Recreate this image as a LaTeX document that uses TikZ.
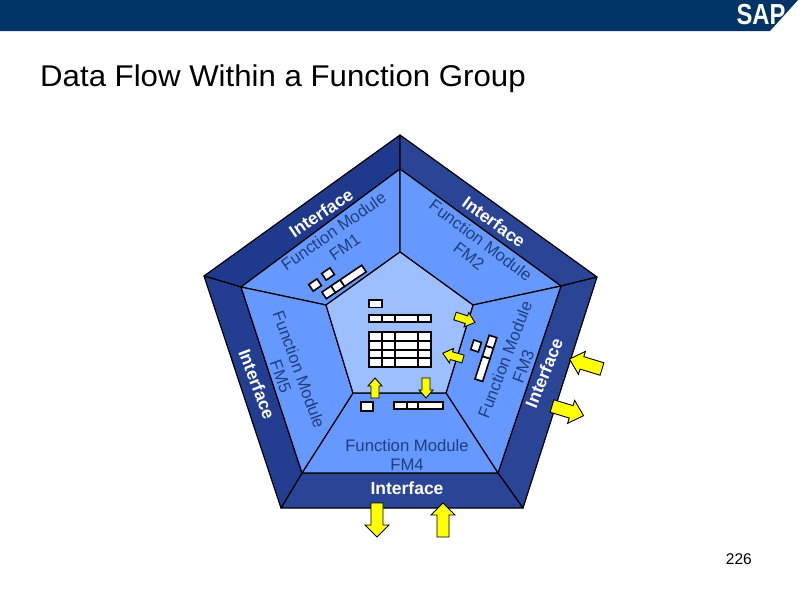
\documentclass[tikz,border=0pt]{standalone}
\usepackage{fontspec}
\setmainfont{Liberation Sans}
\definecolor{hdr}{HTML}{003366}
\definecolor{bandA}{HTML}{1F3A8C}
\definecolor{bandB}{HTML}{2A4596}
\definecolor{midblue}{HTML}{6699FF}
\definecolor{innerblue}{HTML}{9DBEFF}
\definecolor{lbl}{HTML}{1F3F7C}
\definecolor{yel}{HTML}{FFFF00}
\tikzset{
  band/.style={fill=bandB,draw=black,line width=1.2pt,line join=round},
  midface/.style={fill=midblue,draw=black,line width=1.2pt,line join=round},
  cellbox/.style={fill=white,draw=black,line width=1.6pt},
  gridbox/.style={fill=white,draw=black,line width=2pt},
  yarrow/.style={fill=yel,draw=black,line width=.9pt,line join=miter},
  fmlabel/.style={text=lbl,font=\fontsize{16.7}{19.5}\selectfont,align=center,inner sep=0pt},
  iflabel/.style={text=white,font=\fontsize{17.5}{20}\selectfont\bfseries,inner sep=0pt}
}
% tail x, tail y, angle (screen ccw), length, head length, shaft half width, head half width
\newcommand{\yarr}[7]{\draw[yarrow,shift={(#1,#2)},rotate=#3] (0,-#6) -- ({#4-#5},-#6) -- ({#4-#5},-#7) -- (#4,0) -- ({#4-#5},#7) -- ({#4-#5},#6) -- (0,#6) -- cycle;}
% row of cells: origin x, y, angle, height, list of cut positions
\newcommand{\cellrow}[5]{\begin{scope}[shift={(#1,#2)},rotate=#3]
  \foreach \a/\b in {#5} {\draw[cellbox] (\a,0) rectangle (\b,#4);}
\end{scope}}
\begin{document}
\begin{tikzpicture}[x=1pt,y=-1pt]
\useasboundingbox (0,0) rectangle (800,600);
\fill[white] (0,0) rectangle (800,600);
% header
\fill[hdr] (0,0) -- (798,0) -- (770,31) -- (0,31) -- cycle;
\node[text=white,font=\fontsize{29}{29}\selectfont\bfseries,xscale=.82,inner sep=0pt] (logo) at (761,15) {SAP};
% title
\node[anchor=base west,inner sep=0pt,font=\fontsize{30}{34}\selectfont,xscale=1.04] (title) at (40,86) {Data Flow Within a Function Group};
\node[anchor=base east,inner sep=0pt,font=\fontsize{15.5}{17}\selectfont] (pagenum) at (752,564) {226};
% pentagon vertices
\coordinate (o1) at (400,135); \coordinate (o2) at (597,277); \coordinate (o3) at (523,508); \coordinate (o4) at (281,508); \coordinate (o5) at (204,276);
\coordinate (m1) at (400,169); \coordinate (m2) at (561,286); \coordinate (m3) at (498,473); \coordinate (m4) at (302,473); \coordinate (m5) at (241,287);
\coordinate (i1) at (400,252); \coordinate (i2) at (473,305); \coordinate (i3) at (446,393); \coordinate (i4) at (353,393); \coordinate (i5) at (326,305);
% outer bands
\draw[band,fill=bandA] (o5) -- (o1) -- (m1) -- (m5) -- cycle;
\draw[band] (o1) -- (o2) -- (m2) -- (m1) -- cycle;
\draw[band] (o2) -- (o3) -- (m3) -- (m2) -- cycle;
\draw[band] (o3) -- (o4) -- (m4) -- (m3) -- cycle;
\draw[band,fill=bandA!60!bandB] (o4) -- (o5) -- (m5) -- (m4) -- cycle;
% middle faces
\draw[midface] (m5) -- (m1) -- (i1) -- (i5) -- cycle;
\draw[midface] (m1) -- (m2) -- (i2) -- (i1) -- cycle;
\draw[midface] (m2) -- (m3) -- (i3) -- (i2) -- cycle;
\draw[midface] (m3) -- (m4) -- (i4) -- (i3) -- cycle;
\draw[midface] (m4) -- (m5) -- (i5) -- (i4) -- cycle;
\draw[midface,fill=innerblue] (i1) -- (i2) -- (i3) -- (i4) -- (i5) -- cycle;
% labels
\node[iflabel,rotate=34] (if1) at (321,213) {Interface};
\node[iflabel,rotate=-36] (if2) at (494,222) {Interface};
\node[iflabel,rotate=68] (if3) at (544,373) {Interface};
\node[iflabel] (if4) at (407,488) {Interface};
\node[iflabel,rotate=-69] (if5) at (257,384) {Interface};
\node[fmlabel,rotate=35] (fm1) at (339,239) {Function Module\\FM1};
\node[fmlabel,rotate=-37] (fm2) at (475,248) {Function Module\\FM2};
\node[fmlabel,rotate=69] (fm3) at (514,363) {Function Module\\FM3};
\node[fmlabel] (fm4) at (407,455) {Function Module\\FM4};
\node[fmlabel,rotate=-70] (fm5) at (290,373) {Function Module\\FM5};
% central table
\draw[cellbox] (369,300) rectangle (382,307.5);
\foreach \a/\b in {369/382,382/395,395/418,418/431} {\draw[cellbox] (\a,315) rectangle (\b,322);}
\foreach \r in {332,340.75,349.5,358.25} {\foreach \a/\b in {369/382,382/395,395/418,418/431} {\draw[gridbox] (\a,\r) rectangle (\b,\r+8.75);}}
% lower cells
\draw[cellbox] (361,402) rectangle (373,411);
\foreach \a/\b in {394/407,407/418,418/443} {\draw[cellbox] (\a,402) rectangle (\b,409);}
% FM1 cells
\cellrow{308.7}{284.5}{34}{8}{0/10}
\cellrow{321.7}{273.5}{34}{8}{0/10}
\cellrow{321.9}{292.1}{34}{8}{0/11,11/22,22/48}
% FM3 cells
\cellrow{470.7}{349.5}{72}{8}{0/10}
\cellrow{475}{379}{72}{8}{0/24,24/35,35/46}
% yellow arrows
\yarr{455}{316}{-18}{21}{9}{4}{7.5}
\yarr{463}{359}{164}{21}{9}{4}{7.5}
\yarr{375}{398}{90}{20}{8}{4}{7}
\yarr{426}{378}{-90}{20}{8}{4}{7}
\yarr{602}{369}{163}{34}{13}{6.5}{12}
\yarr{552}{406}{-17}{33}{13}{6.5}{12}
\yarr{377}{503}{-90}{34}{12}{6}{12}
\yarr{443}{537}{90}{34}{12}{6}{12}
\end{tikzpicture}
\end{document}
